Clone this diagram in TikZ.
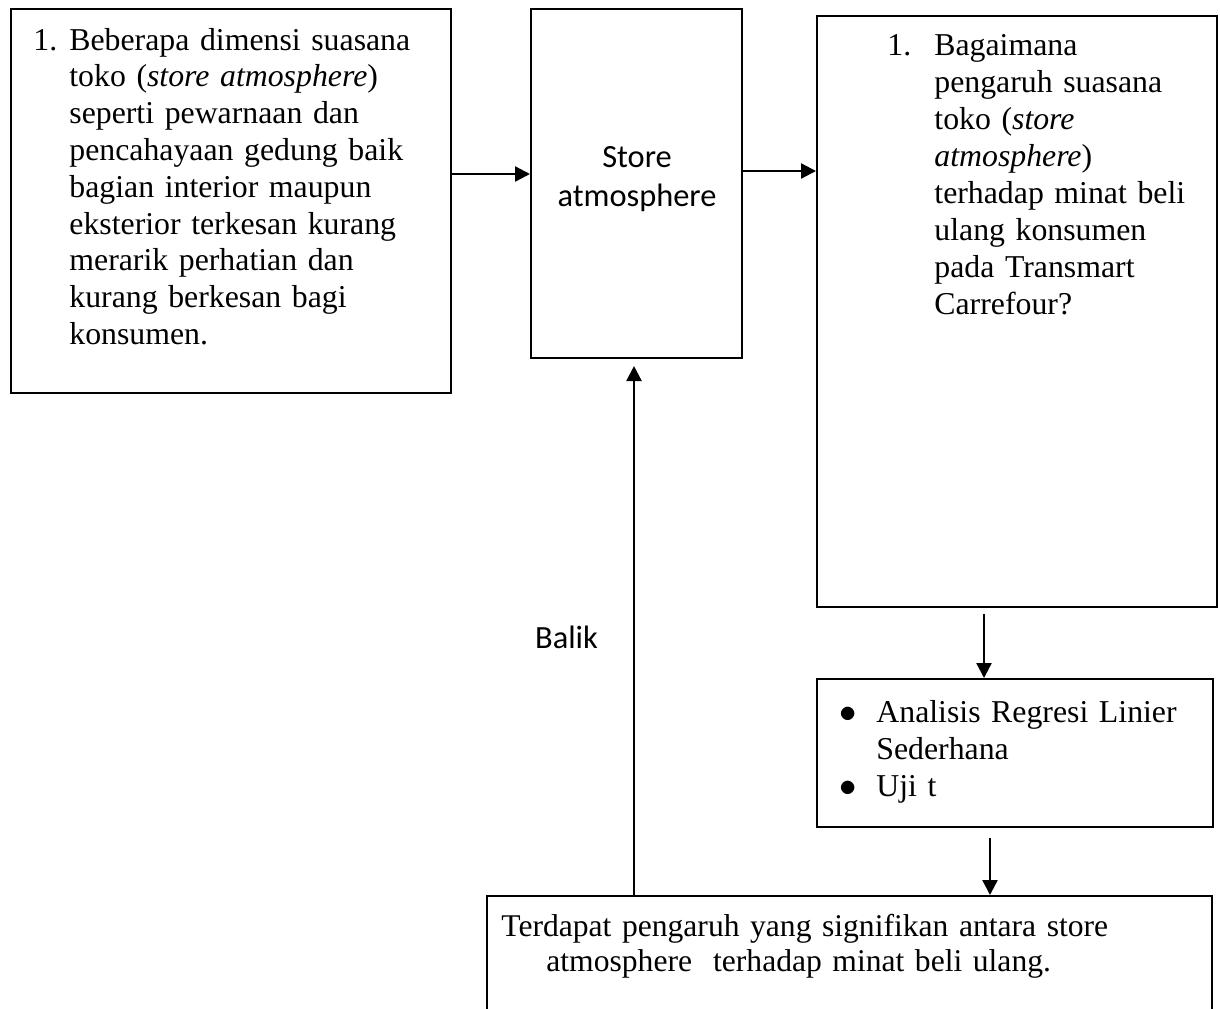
\documentclass[tikz,border=0pt]{standalone}
\usepackage{fontspec}
\setmainfont{Liberation Serif}
\newfontfamily\calibri{Carlito}
\usetikzlibrary{arrows.meta}

\begin{document}
\begin{tikzpicture}[x=0.5pt,y=-0.5pt,
	kotak/.style={rectangle,draw,line width=1pt,inner sep=0pt},
	isi/.style={anchor=base west,inner sep=0pt,align=left,font=\fontsize{15.9pt}{18.4pt}\selectfont},
	label/.style={anchor=base,inner sep=0pt,font=\calibri\fontsize{16.2pt}{19.5pt}\selectfont},
	panah/.style={-{Triangle[length=7.5pt,width=7.5pt]},line width=1.15pt}]
	\useasboundingbox (0,0) rectangle (1220,1008);

	\node[kotak,minimum width=220pt,minimum height=192pt] (masalah) at (231,201) {};
		\node[isi,text width=205pt] (masalahTeks) at (33,50) {\hangindent=18pt\hangafter=1\makebox[18pt][l]{1.}Beberapa dimensi suasana\newline toko (\textit{store atmosphere})\newline seperti pewarnaan dan\newline pencahayaan gedung baik\newline bagian interior maupun\newline eksterior terkesan kurang\newline merarik perhatian dan\newline kurang berkesan bagi\newline konsumen.\par};

	\node[kotak,minimum width=105.5pt,minimum height=174.5pt] (store) at (636.5,183.5) {};
		\node[label,align=center,text width=100pt] (storeTeks) at (637,167) {Store\\ atmosphere};

	\node[kotak,minimum width=200pt,minimum height=295.5pt] (rumusan) at (1017,311.5) {};
		\node[isi,text width=180pt,font=\fontsize{15.9pt}{18.5pt}\selectfont] (rumusanTeks) at (887,55) {\hangindent=23.5pt\hangafter=1\makebox[23.5pt][l]{1.}Bagaimana\newline pengaruh suasana\newline toko (\textit{store}\newline \textit{atmosphere})\newline terhadap minat beli\newline ulang konsumen\newline pada Transmart\newline Carrefour?\par};

	\node[kotak,minimum width=198pt,minimum height=74pt] (analisis) at (1015,753) {};
		\node[isi,text width=180pt,font=\fontsize{15.9pt}{18.5pt}\selectfont] (analisisTeks) at (839,722) {\hangindent=18.5pt\hangafter=1\makebox[18.5pt][l]{$\bullet$}Analisis Regresi Linier\newline Sederhana\par
			\hangindent=18.5pt\hangafter=1\makebox[18.5pt][l]{$\bullet$}Uji t\par};

	\node[kotak,minimum width=362.5pt,minimum height=58pt] (kesimpulan) at (849.5,954) {};
		\node[isi,text width=340pt,font=\fontsize{15.8pt}{17.5pt}\selectfont] (kesimpulanTeks) at (501,936) {\hangindent=22.5pt\hangafter=1 Terdapat pengaruh yang signifikan antara store\newline atmosphere~ terhadap minat beli ulang.\par};

	\node[label] (balik) at (566.5,648) {Balik};

	% panah antar kotak
	\coordinate (aKanan) at ([yshift=13.5pt]masalah.east);
		\draw[panah] (aKanan) -- (aKanan -| store.west);
	\coordinate (bKanan) at ([yshift=6.25pt]store.east);
		\draw[panah] (bKanan) -- (bKanan -| rumusan.west);
	\coordinate (cBawah) at ([xshift=-16.5pt]rumusan.south);
		\draw[panah,shorten <=3pt] (cBawah) -- (cBawah |- analisis.north);
	\coordinate (dBawah) at ([xshift=-12.5pt]analisis.south);
		\draw[panah,shorten <=5pt] (dBawah) -- (dBawah |- kesimpulan.north);
	\coordinate (balikAtas) at ([xshift=-1.25pt]store.south);
		\draw[panah,shorten >=3.5pt] (balikAtas |- kesimpulan.north) -- (balikAtas);
\end{tikzpicture}
\end{document}
